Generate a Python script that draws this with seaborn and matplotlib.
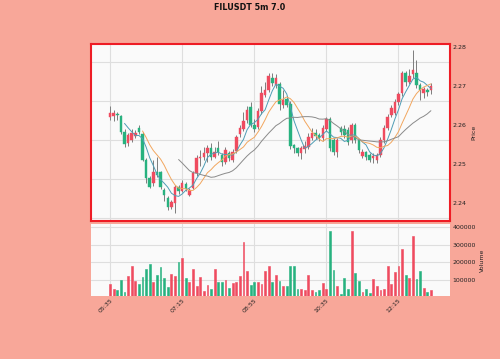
import seaborn as sns
import matplotlib.pyplot as plt
import pandas as pd
import numpy as np

# FILUSDT 5m candles, 05:35 -> 13:00
opens = [2.2621, 2.2624, 2.2630, 2.2624, 2.2582, 2.2554, 2.2562, 2.2572, 2.2593, 2.2578,
         2.2512, 2.2466, 2.2452, 2.2480, 2.2480, 2.2434, 2.2414, 2.2391, 2.2401, 2.2442,
         2.2432, 2.2450, 2.2421, 2.2440, 2.2478, 2.2515, 2.2520, 2.2530, 2.2543, 2.2520,
         2.2542, 2.2524, 2.2506, 2.2528, 2.2512, 2.2535, 2.2577, 2.2590, 2.2613, 2.2648,
         2.2600, 2.2595, 2.2636, 2.2678, 2.2690, 2.2721, 2.2703, 2.2705, 2.2652, 2.2668,
         2.2655, 2.2549, 2.2542, 2.2530, 2.2540, 2.2545, 2.2568, 2.2580, 2.2574, 2.2568,
         2.2590, 2.2615, 2.2562, 2.2531, 2.2593, 2.2590, 2.2588, 2.2562, 2.2600, 2.2562,
         2.2521, 2.2531, 2.2524, 2.2516, 2.2511, 2.2524, 2.2562, 2.2593, 2.2626, 2.2631,
         2.2659, 2.2682, 2.2734, 2.2712, 2.2730, 2.2734, 2.2703, 2.2682, 2.2690, 2.2690]
highs = [2.2649, 2.2640, 2.2633, 2.2626, 2.2590, 2.2580, 2.2590, 2.2588, 2.2600, 2.2582,
         2.2515, 2.2470, 2.2511, 2.2520, 2.2483, 2.2440, 2.2420, 2.2410, 2.2446, 2.2446,
         2.2460, 2.2456, 2.2440, 2.2483, 2.2525, 2.2537, 2.2545, 2.2550, 2.2555, 2.2545,
         2.2560, 2.2530, 2.2545, 2.2535, 2.2538, 2.2575, 2.2600, 2.2635, 2.2650, 2.2660,
         2.2615, 2.2645, 2.2700, 2.2710, 2.2735, 2.2735, 2.2730, 2.2712, 2.2690, 2.2675,
         2.2662, 2.2552, 2.2545, 2.2548, 2.2560, 2.2580, 2.2592, 2.2590, 2.2580, 2.2600,
         2.2620, 2.2620, 2.2568, 2.2568, 2.2598, 2.2600, 2.2595, 2.2605, 2.2605, 2.2565,
         2.2538, 2.2535, 2.2528, 2.2528, 2.2530, 2.2570, 2.2600, 2.2630, 2.2652, 2.2668,
         2.2685, 2.2740, 2.2740, 2.2745, 2.2792, 2.2767, 2.2708, 2.2698, 2.2695, 2.2708]
lows = [2.2613, 2.2612, 2.2613, 2.2578, 2.2545, 2.2548, 2.2558, 2.2568, 2.2578, 2.2508,
        2.2452, 2.2440, 2.2445, 2.2468, 2.2438, 2.2405, 2.2383, 2.2386, 2.2375, 2.2425,
        2.2428, 2.2432, 2.2418, 2.2436, 2.2470, 2.2495, 2.2510, 2.2505, 2.2512, 2.2515,
        2.2525, 2.2495, 2.2500, 2.2508, 2.2505, 2.2530, 2.2570, 2.2585, 2.2605, 2.2595,
        2.2582, 2.2590, 2.2630, 2.2672, 2.2685, 2.2700, 2.2695, 2.2640, 2.2645, 2.2648,
        2.2540, 2.2530, 2.2521, 2.2514, 2.2530, 2.2540, 2.2562, 2.2565, 2.2560, 2.2560,
        2.2585, 2.2535, 2.2525, 2.2520, 2.2575, 2.2568, 2.2550, 2.2555, 2.2555, 2.2530,
        2.2515, 2.2512, 2.2505, 2.2503, 2.2503, 2.2518, 2.2555, 2.2588, 2.2620, 2.2626,
        2.2652, 2.2675, 2.2700, 2.2705, 2.2722, 2.2695, 2.2664, 2.2670, 2.2675, 2.2680]
closes = [2.2631, 2.2632, 2.2626, 2.2583, 2.2552, 2.2575, 2.2580, 2.2580, 2.2582, 2.2512,
          2.2466, 2.2443, 2.2480, 2.2473, 2.2442, 2.2421, 2.2391, 2.2404, 2.2442, 2.2432,
          2.2452, 2.2438, 2.2434, 2.2478, 2.2516, 2.2520, 2.2530, 2.2543, 2.2520, 2.2532,
          2.2531, 2.2506, 2.2537, 2.2515, 2.2531, 2.2570, 2.2593, 2.2610, 2.2639, 2.2600,
          2.2590, 2.2636, 2.2682, 2.2690, 2.2725, 2.2708, 2.2721, 2.2655, 2.2665, 2.2652,
          2.2547, 2.2542, 2.2529, 2.2542, 2.2546, 2.2570, 2.2580, 2.2572, 2.2568, 2.2592,
          2.2615, 2.2542, 2.2531, 2.2562, 2.2583, 2.2575, 2.2556, 2.2600, 2.2562, 2.2537,
          2.2531, 2.2519, 2.2511, 2.2522, 2.2524, 2.2562, 2.2593, 2.2621, 2.2644, 2.2659,
          2.2680, 2.2734, 2.2710, 2.2725, 2.2741, 2.2703, 2.2690, 2.2692, 2.2685, 2.2700]
volumes = [73000, 46000, 38000, 96000, 29000, 123000, 177000, 94000, 73000, 117000,
           162000, 187000, 85000, 127000, 173000, 108000, 60000, 131000, 123000, 202000,
           225000, 108000, 87000, 162000, 65000, 112000, 37000, 71000, 46000, 158000,
           87000, 87000, 100000, 54000, 81000, 88000, 123000, 313000, 148000, 69000,
           87000, 87000, 77000, 148000, 177000, 87000, 125000, 90000, 63000, 63000,
           179000, 179000, 48000, 48000, 38000, 125000, 42000, 29000, 40000, 83000,
           48000, 381000, 154000, 63000, 19000, 110000, 46000, 381000, 135000, 92000,
           29000, 46000, 23000, 106000, 63000, 38000, 46000, 177000, 77000, 144000,
           177000, 275000, 125000, 110000, 352000, 104000, 148000, 52000, 29000, 42000]
mav_periods = [5, 10, 20]
mav_colors = ['#4f9db5', '#f2a65e', '#8a8a8a']

df = pd.DataFrame({'Open': opens, 'High': highs, 'Low': lows, 'Close': closes, 'Volume': volumes})
df['Time'] = pd.date_range('2023-01-01 05:35', periods=len(df), freq='5min')
df['i'] = np.arange(len(df))
up_color, down_color = '#ef4b5f', '#27b27f'
colors = np.where(df['Close'] >= df['Open'], up_color, down_color)

bg = '#f8a799'
sns.set_style('whitegrid', {'axes.facecolor': '#fafafa', 'grid.color': '#dedede'})
plt.rcParams['font.family'] = ['DejaVu Sans']

fig = plt.figure(figsize=(5, 3.59), dpi=100, facecolor=bg)
ax1 = fig.add_axes([91/500, 1-221/359, 359/500, 177/359])
ax2 = fig.add_axes([91/500, 1-296/359, 359/500, 72/359], sharex=ax1)

# candles
ax1.vlines(df['i'], df['Low'], df['High'], color='#7d7d7d', linewidth=0.7, zorder=2)
body = (df['Close'] - df['Open']).abs().clip(lower=0.00008)
ax1.bar(df['i'], body, bottom=df[['Open', 'Close']].min(axis=1), width=0.7,
        color=colors, edgecolor=colors, linewidth=0.3, zorder=3)

# moving averages
for p, c in zip(mav_periods, mav_colors):
    df[f'mav{p}'] = df['Close'].rolling(p).mean()
    sns.lineplot(data=df, x='i', y=f'mav{p}', ax=ax1, color=c, linewidth=0.7, zorder=4)

# volume
ax2.bar(df['i'], df['Volume'], width=0.5, color=colors, edgecolor=colors,
        linewidth=0.4, zorder=3)

ax1.set_xlim(-5.3, 94.3)
ax1.set_ylim(2.2355, 2.2808)
ax2.set_ylim(0.3 * min(volumes), 1.1 * max(volumes))

tick_idx = df['i'][::20]
ax2.set_xticks(tick_idx)
ax2.set_xticklabels(df['Time'].dt.strftime('%H:%M')[::20], rotation=45, ha='right',
                    rotation_mode='anchor', fontsize=4.5)
ax1.tick_params(axis='x', labelbottom=False, length=0)

ax1.set_yticks([2.24, 2.25, 2.26, 2.27, 2.28])
ax1.set_yticks(np.arange(2.2362, 2.2800, 0.01), minor=True)
ax1.grid(False, which='major', axis='y')
ax1.grid(True, which='minor', axis='y', color='#dedede', linewidth=0.8)
ax2.set_yticks([100000, 200000, 300000, 400000])

for ax, lab, lx in [(ax1, 'Price', 1.06), (ax2, 'Volume', 1.083)]:
    ax.yaxis.tick_right()
    ax.yaxis.set_label_position('right')
    ax.tick_params(axis='y', which='both', labelsize=4.5, length=0, pad=2, labelcolor='#222222')
    ax.tick_params(axis='x', length=0, pad=1, labelcolor='#222222')
    ax.set_xlabel('')
    ax.set_ylabel(lab, fontsize=4.5, color='#222222')
    ax.yaxis.set_label_coords(lx, 0.5)

for s in ax1.spines.values():
    s.set_color('#ee1c25')
    s.set_linewidth(1.5)
for s in ax2.spines.values():
    s.set_visible(False)

fig.text(0.5, 1 - 7/359, 'FILUSDT 5m 7.0', ha='center', va='center', fontsize=5.8,
         fontweight='bold', color='#111111')

fig.savefig('out.png', dpi=100, facecolor=bg)
